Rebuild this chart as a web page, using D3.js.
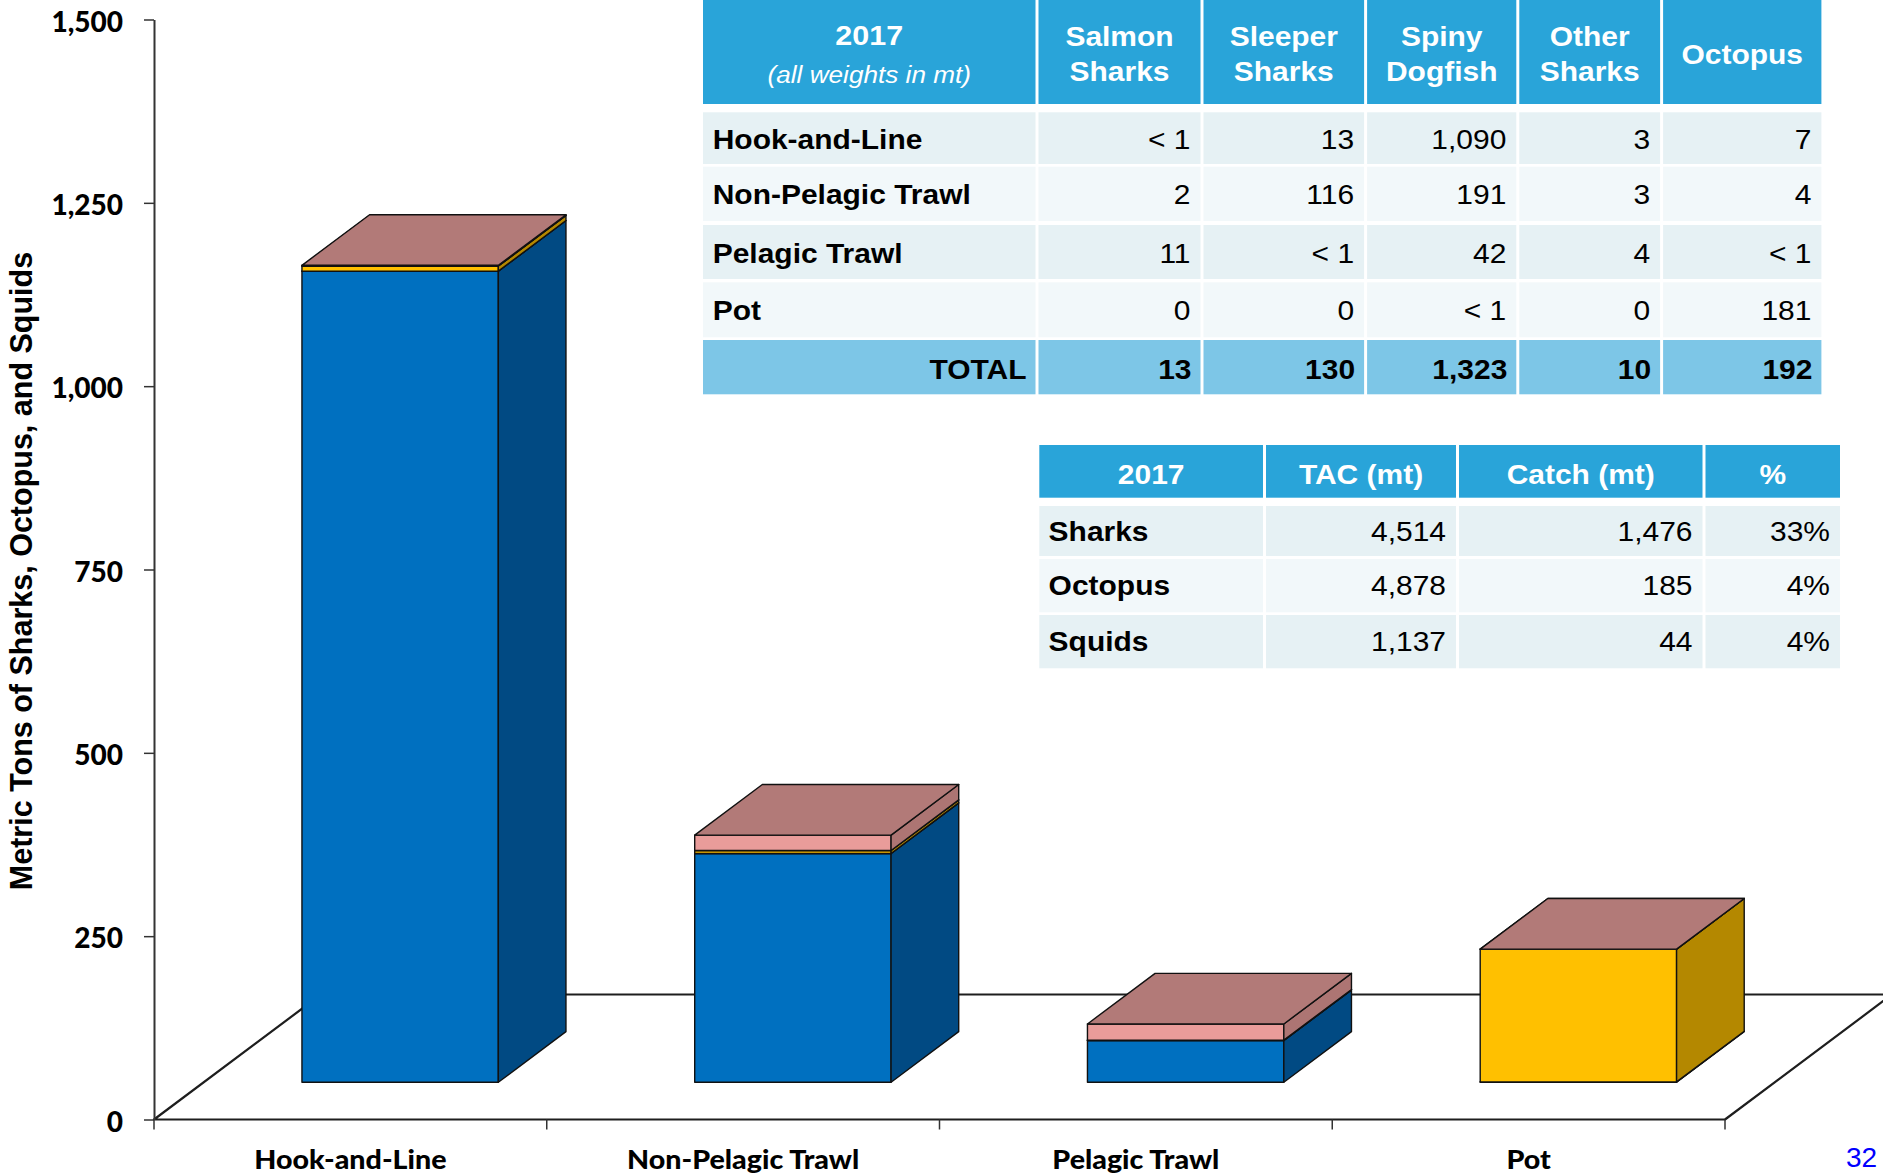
<!DOCTYPE html>
<html><head><meta charset="utf-8">
<script src="https://cdn.jsdelivr.net/npm/d3@7/dist/d3.min.js"></script>
<style>html,body{margin:0;padding:0;background:#fff;overflow:hidden}</style>
</head><body>
<svg id="chart" width="1883" height="1174" xmlns="http://www.w3.org/2000/svg"></svg>
<script>
// ---------- DATA ----------
const gears = ["Hook-and-Line", "Non-Pelagic Trawl", "Pelagic Trawl", "Pot"];
const sharksCatch  = [1106, 312, 57, 0.5];
const octopusCatch = [7, 4, 0.5, 181];
const squidCatch   = [1, 21, 22, 0];
const yTicks = [0, 250, 500, 750, 1000, 1250, 1500];
const yTitle = "Metric Tons of Sharks, Octopus, and Squids";
const pageNumber = "32";

// Table 1 (species by gear)
const t1Header = [["2017", "(all weights in mt)"], ["Salmon", "Sharks"], ["Sleeper", "Sharks"], ["Spiny", "Dogfish"], ["Other", "Sharks"], ["Octopus"]];
const t1Rows = ["Hook-and-Line", "Non-Pelagic Trawl", "Pelagic Trawl", "Pot"];
const salmonSharks  = ["< 1", "2", "11", "0"];
const sleeperSharks = ["13", "116", "< 1", "0"];
const spinyDogfish  = ["1,090", "191", "42", "< 1"];
const otherSharks   = ["3", "3", "4", "0"];
const octopusByGear = ["7", "4", "< 1", "181"];
const t1Totals = ["TOTAL", "13", "130", "1,323", "10", "192"];

// Table 2 (TAC vs catch)
const t2Header = ["2017", "TAC (mt)", "Catch (mt)", "%"];
const t2Groups = ["Sharks", "Octopus", "Squids"];
const tacValues   = ["4,514", "4,878", "1,137"];
const catchValues = ["1,476", "185", "44"];
const pctValues   = ["33%", "4%", "4%"];

// ---------- STYLE ----------
const seriesStyle = [
  {front: "#0070c0", side: "#014a83", top: "#0062aa"},   // sharks
  {front: "#ffc000", side: "#b48800", top: "#d6a300"},   // octopus
  {front: "#e99c9a", side: "#ad7573", top: "#b27a78"}    // squids
];
const SX = 1.09; // horizontal text stretch for table text
const tableFont = "'Liberation Sans', Arial, sans-serif";
const chartFont = "Lato, 'Open Sans', sans-serif";

const svg = d3.select("#chart");

// ---------- SCALES ----------
const x = d3.scaleBand().domain(gears).range([154, 1725]).paddingInner(0).paddingOuter(0);
const y = d3.scaleLinear().domain([0, 1500]).range([1119.5, 19.5]);
const floorDepth = [167, -125];
const zFront = 0.298, zBack = 0.703;
const bw = x.bandwidth();

// ---------- FLOOR ----------
const fl = [x.range()[0], x.range()[1]];
const y0 = y(0);
svg.append("polygon")
  .attr("points", [[fl[0], y0], [fl[1], y0], [fl[1] + floorDepth[0], y0 + floorDepth[1]], [fl[0] + floorDepth[0], y0 + floorDepth[1]]].map(p => p.join(",")).join(" "))
  .attr("fill", "#fff").attr("stroke", "#1e1e1e").attr("stroke-width", 2.2).attr("stroke-linejoin", "round");

// x-axis ticks at band boundaries
const boundaries = gears.map(g => x(g)).concat([x.range()[1]]);
svg.append("g").selectAll("line").data(boundaries).join("line")
  .attr("x1", d => d).attr("x2", d => d).attr("y1", y0).attr("y2", y0 + 10)
  .attr("stroke", "#333").attr("stroke-width", 1.5);

// ---------- BARS ----------
const series = [sharksCatch, octopusCatch, squidCatch];
const fx = floorDepth[0] * zFront, fy = floorDepth[1] * zFront;
const bx = floorDepth[0] * zBack, by = floorDepth[1] * zBack;
const barsG = svg.append("g");
gears.forEach((g, i) => {
  const L = x(g) + bw * 0.25, R = x(g) + bw * 0.75;
  let cum = 0;
  series.forEach((s, k) => {
    const v0 = cum, v1 = cum + s[i];
    cum = v1;
    const st = seriesStyle[k];
    const yb = y(v0), yt = y(v1);
    const pts = a => a.map(p => p.join(",")).join(" ");
    barsG.append("polygon").attr("points", pts([[L + fx, yt + fy], [R + fx, yt + fy], [R + fx, yb + fy], [L + fx, yb + fy]]))
      .attr("fill", st.front).attr("stroke", "#111").attr("stroke-width", 1.4).attr("stroke-linejoin", "round");
    barsG.append("polygon").attr("points", pts([[R + fx, yt + fy], [R + bx, yt + by], [R + bx, yb + by], [R + fx, yb + fy]]))
      .attr("fill", st.side).attr("stroke", "#111").attr("stroke-width", 1.4).attr("stroke-linejoin", "round");
    barsG.append("polygon").attr("points", pts([[L + fx, yt + fy], [R + fx, yt + fy], [R + bx, yt + by], [L + bx, yt + by]]))
      .attr("fill", st.top).attr("stroke", "#111").attr("stroke-width", 1.4).attr("stroke-linejoin", "round");
  });
});

// ---------- Y AXIS ----------
const yAxis = svg.append("g").attr("transform", "translate(154,0)")
  .call(d3.axisLeft(y).tickValues(yTicks).tickSize(10).tickSizeOuter(0).tickFormat(d3.format(",")));
yAxis.select(".domain").attr("stroke", "#333").attr("stroke-width", 2);
yAxis.selectAll(".tick line").attr("stroke", "#333").attr("stroke-width", 1.5);
yAxis.selectAll(".tick text")
  .attr("x", -31).attr("dy", null).attr("y", 11.5)
  .attr("fill", "#000")
  .style("font-family", chartFont).style("font-weight", "900").style("font-size", "28px");

// y title
svg.append("text")
  .attr("transform", "translate(32,571) rotate(-90)")
  .attr("text-anchor", "middle")
  .style("font-family", tableFont).style("font-weight", "bold").style("font-size", "30.5px")
  .attr("fill", "#000").text(yTitle);

// x labels
svg.append("g").selectAll("text").data(gears).join("text")
  .attr("transform", d => `translate(${x(d) + bw / 2},1169) scale(1.06,1)`)
  .attr("text-anchor", "middle")
  .style("font-family", chartFont).style("font-weight", "900").style("font-size", "27px")
  .attr("fill", "#000").text(d => d);

// page number
svg.append("text").attr("x", 1846).attr("y", 1167)
  .style("font-family", tableFont).style("font-size", "28px").attr("fill", "#0000ff").text(pageNumber);

// ---------- TABLE HELPERS ----------
function stext(g, xx, yy, str, anchor, weight, size, color, italic) {
  return g.append("text")
    .attr("transform", `translate(${xx},${yy}) scale(${SX},1)`)
    .attr("text-anchor", anchor)
    .style("font-family", tableFont)
    .style("font-weight", weight)
    .style("font-style", italic ? "italic" : "normal")
    .style("font-size", size + "px")
    .attr("fill", color).text(str);
}
function cellSpans(lines) {
  const out = [];
  for (let i = 0; i < lines.length - 1; i++) {
    out.push([i === 0 ? lines[i] : lines[i] + 1.5, i === lines.length - 2 ? lines[i + 1] : lines[i + 1] - 1.5]);
  }
  return out;
}
const HEAD = "#29a4d9", TOT = "#7dc6e7", ROW_A = "#e6f1f4", ROW_B = "#f2f8fa";

// ---------- TABLE 1 ----------
const t1 = svg.append("g");
const t1Cols = cellSpans([703, 1037, 1202, 1365.6, 1517.8, 1661.6, 1821.4]);
const t1RowSpans = [[-2, 104], [112.3, 164], [166.7, 221], [225, 279], [282.3, 337.3], [340, 394.3]];
const t1Fill = [HEAD, ROW_A, ROW_B, ROW_A, ROW_B, TOT];
t1RowSpans.forEach((r, ri) => {
  t1Cols.forEach(c => {
    t1.append("rect").attr("x", c[0]).attr("y", r[0]).attr("width", c[1] - c[0]).attr("height", r[1] - r[0]).attr("fill", t1Fill[ri]);
  });
});
t1Header.forEach((h, ci) => {
  const cx = (t1Cols[ci][0] + t1Cols[ci][1]) / 2;
  if (ci === 0) {
    stext(t1, cx, 45, h[0], "middle", "bold", 28, "#fff");
    stext(t1, cx, 83, h[1], "middle", "normal", 24, "#fff", true);
  } else if (h.length === 2) {
    stext(t1, cx, 46, h[0], "middle", "bold", 27.5, "#fff");
    stext(t1, cx, 80.7, h[1], "middle", "bold", 27.5, "#fff");
  } else {
    stext(t1, cx, 63.5, h[0], "middle", "bold", 27.5, "#fff");
  }
});
const t1Cols5 = [salmonSharks, sleeperSharks, spinyDogfish, otherSharks, octopusByGear];
t1Rows.forEach((name, ri) => {
  const r = t1RowSpans[ri + 1];
  const base = (r[0] + r[1]) / 2 + 10.5;
  stext(t1, 712.7, base, name, "start", "bold", 27.5, "#000");
  t1Cols5.forEach((col, ci) => {
    stext(t1, t1Cols[ci + 1][1] - 10, base, col[ri], "end", "normal", 27.5, "#000");
  });
});
{
  const r = t1RowSpans[5];
  const base = (r[0] + r[1]) / 2 + 11.5;
  t1Totals.forEach((v, ci) => {
    stext(t1, t1Cols[ci][1] - 9, base, v, "end", "bold", 27.5, "#000");
  });
}

// ---------- TABLE 2 ----------
const t2 = svg.append("g");
const t2Cols = cellSpans([1039.3, 1264.5, 1457.5, 1704, 1840]);
const t2RowSpans = [[445, 497.7], [506, 556], [559, 612.3], [615, 668.3]];
const t2Fill = [HEAD, ROW_A, ROW_B, ROW_A];
t2RowSpans.forEach((r, ri) => {
  t2Cols.forEach(c => {
    t2.append("rect").attr("x", c[0]).attr("y", r[0]).attr("width", c[1] - c[0]).attr("height", r[1] - r[0]).attr("fill", t2Fill[ri]);
  });
});
t2Header.forEach((h, ci) => {
  stext(t2, (t2Cols[ci][0] + t2Cols[ci][1]) / 2, 484.3, h, "middle", "bold", 27.5, "#fff");
});
const t2ValueCols = [tacValues, catchValues, pctValues];
t2Groups.forEach((name, ri) => {
  const r = t2RowSpans[ri + 1];
  const base = (r[0] + r[1]) / 2 + 9.5;
  stext(t2, 1048.6, base, name, "start", "bold", 27.5, "#000");
  t2ValueCols.forEach((col, ci) => {
    stext(t2, t2Cols[ci + 1][1] - 10, base, col[ri], "end", "normal", 27.5, "#000");
  });
});
</script>
</body></html>
